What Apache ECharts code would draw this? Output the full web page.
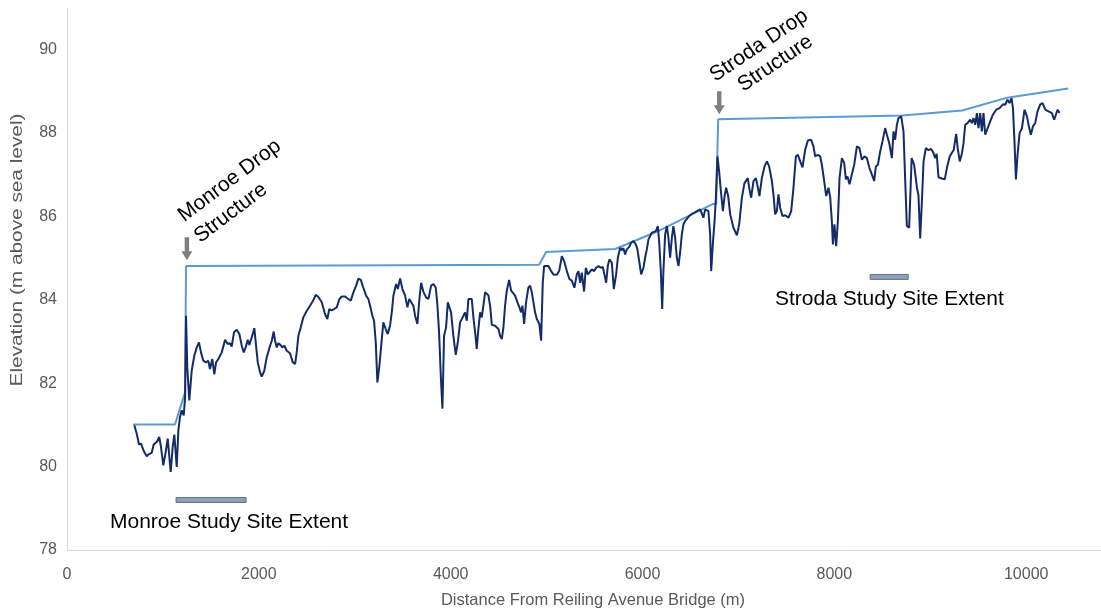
<!DOCTYPE html>
<html>
<head>
<meta charset="utf-8">
<script src="https://cdn.jsdelivr.net/npm/echarts@6/dist/echarts.min.js"></script>
<style>
  html, body { margin: 0; padding: 0; background: #fff; }
  #chart { width: 1101px; height: 612px; }
</style>
</head>
<body>
<div id="chart"></div>
<script>
// Streambed (thalweg) profile: distance downstream of Reiling Avenue Bridge (m) and elevation (m)
const profileDist = [
  702,727,751,772,785,806,831,855,883,904,935,962,980,1004,1029,1050,1081,1102,1119,1144,
  1161,1178,1196,1217,1231,1241,1254,1275,1300,1327,1353,1376,1397,1421,1449,1473,1491,1515,1536,1554,
  1578,1613,1648,1676,1700,1717,1741,1770,1797,1822,1843,1863,1884,1901,1926,1953,1971,1989,2013,2030,
  2057,2082,2117,2135,2155,2169,2187,2203,2224,2245,2266,2291,2325,2354,2378,2395,2412,2437,2464,2500,
  2534,2568,2593,2621,2656,2690,2714,2735,2760,2784,2812,2840,2865,2899,2933,2958,2986,3014,3038,3063,
  3090,3118,3142,3160,3184,3201,3219,3236,3257,3282,3298,3323,3344,3368,3386,3403,3431,3449,3473,3497,
  3525,3549,3569,3587,3611,3629,3653,3674,3692,3716,3744,3768,3796,3820,3845,3862,3879,3897,3914,3931,
  3952,3970,3987,4004,4028,4053,4077,4098,4116,4133,4150,4168,4185,4202,4220,4237,4255,4272,4289,4307,
  4324,4341,4359,4377,4393,4411,4429,4463,4498,4515,4533,4550,4567,4585,4609,4630,4648,4672,4696,4717,
  4734,4748,4766,4786,4810,4828,4846,4863,4880,4898,4925,4943,4960,4974,4992,5019,5047,5071,5107,5131,
  5159,5183,5211,5238,5263,5290,5315,5332,5350,5367,5391,5409,5430,5447,5471,5496,5516,5541,5565,5586,
  5603,5621,5638,5655,5680,5701,5725,5743,5767,5784,5801,5819,5836,5861,5881,5905,5930,5947,5968,5986,
  6010,6027,6045,6062,6080,6097,6114,6139,6160,6173,6191,6205,6218,6236,6254,6270,6288,6306,6322,6340,
  6358,6375,6392,6410,6427,6444,6462,6486,6514,6541,6567,6583,6601,6619,6635,6653,6671,6687,6705,6716,
  6733,6750,6765,6781,6799,6817,6838,6856,6872,6893,6914,6948,6984,7008,7036,7063,7098,7115,7133,7157,
  7182,7203,7219,7244,7272,7297,7320,7349,7365,7383,7401,7417,7435,7459,7487,7522,7550,7574,7599,7620,
  7644,7668,7696,7724,7758,7782,7800,7828,7852,7870,7894,7915,7939,7957,7974,7985,8001,8019,8037,8054,
  8079,8103,8120,8137,8158,8183,8207,8235,8262,8287,8314,8339,8366,8391,8415,8433,8454,8478,8502,8530,
  8548,8572,8600,8617,8634,8652,8669,8697,8721,8739,8756,8780,8806,8832,8861,8877,8895,8913,8930,8954,
  8982,9010,9034,9052,9067,9086,9121,9151,9177,9203,9229,9244,9270,9286,9307,9328,9346,9364,9388,9416,
  9434,9451,9469,9486,9503,9521,9538,9555,9573,9590,9618,9653,9688,9722,9758,9781,9805,9826,9847,9862,
  9878,9893,9910,9931,9956,9983,10008,10032,10049,10070,10094,10118,10147,10171,10199,10233,10268,10292,10310,10327,
  10348
];
const profileElev = [
  80.99,80.79,80.53,80.55,80.47,80.35,80.25,80.30,80.33,80.53,80.59,80.71,80.47,80.03,80.35,80.67,79.87,80.47,80.77,79.99,
  80.87,81.19,81.35,81.23,81.66,83.62,82.38,81.59,82.30,82.66,82.86,82.98,82.74,82.54,82.50,82.54,82.34,82.58,82.21,82.50,
  82.58,82.74,83.04,82.94,82.96,82.88,83.22,83.28,83.18,82.90,82.74,82.86,83.04,82.92,83.10,83.32,82.90,82.50,82.26,82.16,
  82.30,82.62,82.90,83.02,83.24,83.02,82.86,82.96,82.92,82.86,82.90,82.78,82.72,82.50,82.46,82.74,83.14,83.34,83.58,83.74,
  83.86,83.99,84.12,84.07,83.94,83.66,83.54,83.78,83.75,83.78,83.82,84.02,84.08,84.08,84.02,83.98,84.18,84.34,84.51,84.48,
  84.29,84.10,84.02,83.86,83.62,83.50,82.98,82.02,82.42,83.06,83.46,83.30,83.18,83.38,83.70,84.10,84.38,84.26,84.51,84.26,
  84.10,83.82,84.02,84.06,83.86,83.62,83.42,84.02,84.41,84.19,84.06,84.02,84.34,84.38,84.29,83.86,83.22,82.18,81.39,83.14,
  83.34,83.94,83.98,83.70,83.14,82.68,83.02,83.46,83.54,83.50,83.70,83.50,84.02,84.06,84.02,83.58,83.22,82.82,83.30,83.70,
  83.58,83.86,84.18,84.19,84.11,83.86,83.40,83.38,83.30,83.14,83.06,83.34,83.86,84.22,84.48,84.22,84.18,84.10,83.94,83.82,
  83.70,83.86,83.42,83.94,84.29,84.34,84.18,83.94,83.70,83.54,83.42,83.02,84.41,84.81,84.85,84.81,84.69,84.61,84.60,84.69,
  85.05,84.93,84.69,84.50,84.46,84.29,84.61,84.69,84.41,84.65,84.20,84.77,84.61,84.57,84.73,84.69,84.77,84.81,84.77,84.79,
  84.61,84.41,84.81,84.97,84.89,84.26,84.61,85.01,85.25,85.19,85.24,85.09,85.21,85.27,85.37,85.41,85.33,85.21,84.89,84.61,
  84.77,85.01,85.21,85.45,85.49,85.61,85.65,85.65,85.77,85.41,84.69,83.78,84.69,85.57,85.77,85.49,85.01,85.49,85.77,85.49,
  85.01,84.81,85.13,85.57,85.81,85.89,85.93,86.01,86.06,86.09,86.13,86.13,86.17,86.13,85.97,86.17,86.21,86.13,85.57,84.69,
  85.33,85.85,86.45,87.44,87.08,86.61,86.13,86.49,86.69,86.49,86.05,85.73,85.55,85.81,86.45,86.80,86.92,86.65,86.45,86.85,
  86.92,86.69,86.49,86.92,87.20,87.32,87.20,86.85,86.53,86.05,86.13,86.53,86.21,86.01,86.03,85.97,86.13,86.69,87.44,87.48,
  87.32,87.18,87.60,87.82,87.84,87.68,87.44,87.48,87.44,87.24,86.85,86.49,86.69,86.45,85.89,85.33,85.81,85.29,85.89,86.92,
  87.40,87.28,86.89,86.96,86.77,87.01,87.24,87.68,87.64,87.36,87.44,87.40,87.16,87.01,86.85,87.20,87.24,87.56,87.80,88.12,
  87.96,87.76,87.40,88.04,87.84,88.20,88.36,88.40,88.04,86.85,85.77,85.73,87.40,87.24,86.69,86.51,85.47,86.37,87.32,87.64,
  87.59,87.62,87.52,87.40,87.50,86.94,86.91,86.89,87.20,87.44,87.54,87.59,87.98,87.64,87.32,87.49,87.74,88.20,88.24,88.32,
  88.24,88.36,88.20,88.48,88.12,88.48,88.04,88.48,87.96,88.00,88.24,88.44,88.56,88.60,88.69,88.68,88.80,88.72,88.84,88.60,
  87.80,86.89,87.48,88.00,88.12,88.56,88.40,88.12,87.96,88.16,88.24,88.52,88.69,88.72,88.56,88.52,88.48,88.32,88.32,88.56,
  88.48
];

// Upper profile line stepping up at the two drop structures
const designDist = [688, 1126, 1231, 1241, 4922, 4995, 5715, 6184, 6736, 6768, 6789, 8707, 9333, 9802, 10438];
const designElev = [81.01, 81.01, 81.78, 84.81, 84.84, 85.15, 85.22, 85.67, 86.30, 86.30, 88.33, 88.42, 88.54, 88.85, 89.07];

// Study site extents: [start (m), end (m), elevation at which the bar is drawn]
const monroeExtent = [1137, 1867, 79.20];
const strodaExtent = [8374, 8770, 84.55];

// Drop structure locations (m) and the elevation the arrow tips point at
const dropNames = ['Monroe', 'Stroda'];
const dropDist = [1250, 6800];
const dropTipElev = [84.95, 88.45];

// Axis ranges and ticks
const xTicks = { min: 0, max: 10780, interval: 2000 };
const yTicks = { min: 78, max: 91, interval: 2 };

const FONT = "'Liberation Sans', Arial, sans-serif";
const chart = echarts.init(document.getElementById('chart'), null, { renderer: 'canvas' });

const option = {
  animation: false,
  backgroundColor: '#ffffff',
  grid: { left: 67, top: 8, right: 0, bottom: 62, containLabel: false },
  xAxis: {
    type: 'value',
    min: xTicks.min, max: xTicks.max, interval: xTicks.interval,
    axisLine: { show: true, lineStyle: { color: '#d9d9d9', width: 1 } },
    axisTick: { show: false },
    splitLine: { show: false },
    axisLabel: {
      color: '#595959', fontSize: 16, fontFamily: FONT, margin: 17, showMaxLabel: false,
      formatter: v => String(v)
    }
  },
  yAxis: {
    type: 'value',
    min: yTicks.min, max: yTicks.max, interval: yTicks.interval,
    axisLine: { show: true, lineStyle: { color: '#d9d9d9', width: 1 } },
    axisTick: { show: false },
    splitLine: { show: false },
    axisLabel: {
      color: '#595959', fontSize: 16, fontFamily: FONT, margin: 10, showMaxLabel: false,
      formatter: v => String(v)
    }
  },
  series: [
    {
      name: 'Upper profile',
      type: 'line',
      data: designDist.map((d, i) => [d, designElev[i]]),
      showSymbol: false,
      lineStyle: { color: '#5b9bd5', width: 2 },
      z: 3
    },
    {
      name: 'Thalweg',
      type: 'line',
      data: profileDist.map((d, i) => [d, profileElev[i]]),
      showSymbol: false,
      lineStyle: { color: '#132c68', width: 2 },
      z: 4
    },
    {
      name: 'Study site extent',
      type: 'custom',
      data: [monroeExtent, strodaExtent],
      encode: { x: [0, 1], y: 2 },
      renderItem: function (params, api) {
        const a = api.coord([api.value(0), api.value(2)]);
        const b = api.coord([api.value(1), api.value(2)]);
        return {
          type: 'rect',
          shape: { x: a[0], y: a[1] - 2.5, width: b[0] - a[0], height: 5 },
          style: { fill: '#8ea0b6', stroke: '#5f7189', lineWidth: 1 }
        };
      },
      z: 5
    }
  ]
};
chart.setOption(option);

// Grey down-arrows marking the drop structures
function arrowPoints(tip) {
  const [x, y] = tip;
  return [
    [x, y], [x - 5.5, y - 9], [x - 2.2, y - 9], [x - 2.2, y - 23],
    [x + 2.2, y - 23], [x + 2.2, y - 9], [x + 5.5, y - 9]
  ];
}
const arrows = dropDist.map((d, i) => ({
  type: 'polygon',
  shape: { points: arrowPoints(chart.convertToPixel({ gridIndex: 0 }, [d, dropTipElev[i]])) },
  style: { fill: '#7f7f7f' },
  z: 10
}));

function rotatedText(text, x, y, deg) {
  return {
    type: 'text', x: x, y: y, rotation: deg * Math.PI / 180, z: 10,
    style: { text: text, fill: '#000000', fontSize: 21, fontFamily: FONT, align: 'left', verticalAlign: 'bottom' }
  };
}
function plainText(text, x, y) {
  return {
    type: 'text', x: x, y: y, z: 10,
    style: { text: text, fill: '#000000', fontSize: 21, fontFamily: FONT, align: 'left', verticalAlign: 'bottom' }
  };
}

chart.setOption({
  graphic: [
    ...arrows,
    rotatedText('Monroe Drop', 187, 226, 37),
    rotatedText('Structure', 203, 247, 37),
    rotatedText('Stroda Drop', 718, 86, 34),
    rotatedText('Structure', 746, 96, 34),
    plainText('Monroe Study Site Extent', 110, 533),
    plainText('Stroda Study Site Extent', 775, 310),
    // horizontal axis title
    {
      type: 'text', x: 593, y: 600, z: 10,
      style: {
        text: 'Distance From Reiling Avenue Bridge (m)', fill: '#595959', fontSize: 16.5, fontFamily: FONT,
        align: 'center', verticalAlign: 'middle'
      }
    },
    // vertical axis title, drawn stretched along its length
    {
      type: 'text', x: 18, y: 250, rotation: Math.PI / 2, scaleX: 1.3, z: 10,
      style: {
        text: 'Elevation (m above sea level)', fill: '#595959', fontSize: 16, fontFamily: FONT,
        align: 'center', verticalAlign: 'middle'
      }
    }
  ]
});
</script>
</body>
</html>
